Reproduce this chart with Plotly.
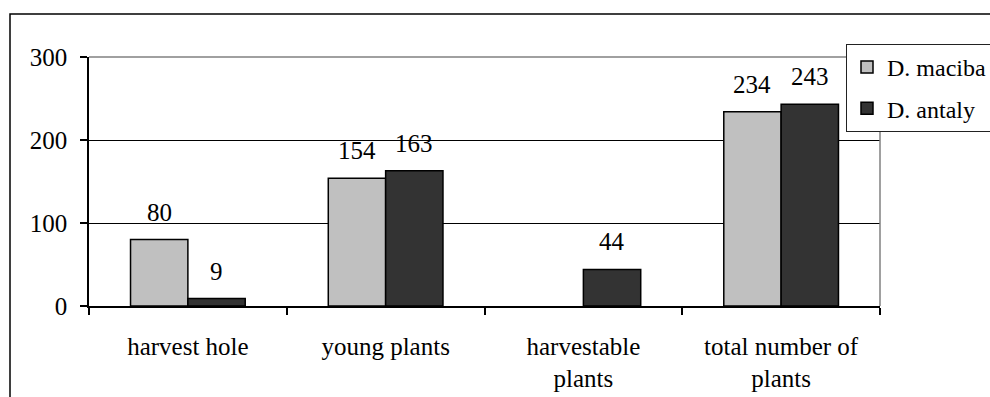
import plotly.graph_objects as go

# Plant counts per category for the two species
categories = ["harvest hole", "young plants", "harvestable<br>plants", "total number of<br>plants"]
maciba = [80, 154, None, 234]
antaly = [9, 163, 44, 243]
series_names = ["D. maciba", "D. antaly"]
y_ticks = [0, 100, 200, 300]

FONT = "Liberation Serif"
W, H = 990, 397
M_L, M_R, M_T, M_B = 89, 110, 57, 91
plot_w = W - M_L - M_R
plot_h = H - M_T - M_B

fig = go.Figure()
fig.add_trace(go.Bar(
    name=series_names[0], x=categories, y=maciba, legendgroup="a",
    marker=dict(color="#C0C0C0", line=dict(color="black", width=1.5)),
))
fig.add_trace(go.Bar(
    name=series_names[1], x=categories, y=antaly, legendgroup="b",
    marker=dict(color="#333333", line=dict(color="black", width=1.5)),
))

# Value labels above each bar
bargap = 0.42
cat_w = plot_w / len(categories)
bar_w = cat_w * (1 - bargap) / 2
annotations = []
for vals, shift in ((maciba, -bar_w / 2), (antaly, bar_w / 2)):
    for cat, v in zip(categories, vals):
        if v is None:
            continue
        annotations.append(dict(
            x=cat, y=v, xref="x", yref="y", text=str(v), showarrow=False,
            xanchor="center", yanchor="bottom", xshift=shift, yshift=12,
            font=dict(family=FONT, size=25, color="black"),
        ))

shapes = [
    # plot-area border (top and right)
    dict(type="line", xref="paper", yref="paper", x0=0, x1=1, y0=1, y1=1,
         line=dict(color="#808080", width=1.5)),
    dict(type="line", xref="paper", yref="paper", x0=1, x1=1, y0=0, y1=1,
         line=dict(color="#808080", width=1.5)),
    # outer chart frame
    dict(type="rect", xref="paper", yref="paper",
         x0=(10 - M_L) / plot_w, x1=2.0,
         y0=-1.0, y1=(H - M_B - 14) / plot_h,
         line=dict(color="black", width=1.5), fillcolor="rgba(0,0,0,0)"),
]

fig.update_layout(
    width=W, height=H,
    margin=dict(l=M_L, r=M_R, t=M_T, b=M_B, pad=0, autoexpand=False),
    paper_bgcolor="white", plot_bgcolor="white",
    font=dict(family=FONT, size=25, color="black"),
    barmode="group", bargap=bargap, bargroupgap=0,
    showlegend=True,
    legend=dict(
        x=(846 - M_L) / plot_w, y=(H - M_B - 44) / plot_h,
        xanchor="left", yanchor="top",
        bgcolor="white", bordercolor="#222222", borderwidth=1,
        font=dict(family=FONT, size=24, color="black"),
        traceorder="grouped", tracegroupgap=7,
        entrywidth=120, entrywidthmode="pixels",
    ),
    annotations=annotations,
    shapes=shapes,
)
fig.update_xaxes(
    showline=True, linecolor="black", linewidth=1.5,
    ticks="outside", ticklen=7, tickcolor="black", tickwidth=1.5,
    tickson="boundaries", showgrid=False, ticklabelstandoff=17,
)
fig.update_yaxes(
    range=[0, 300], tickvals=y_ticks,
    showline=True, linecolor="black", linewidth=1.5,
    ticks="outside", ticklen=7, tickcolor="black", tickwidth=1.5,
    showgrid=True, gridcolor="black", gridwidth=1, zeroline=False,
    ticklabelstandoff=8,
)

fig.write_html("out.html")
